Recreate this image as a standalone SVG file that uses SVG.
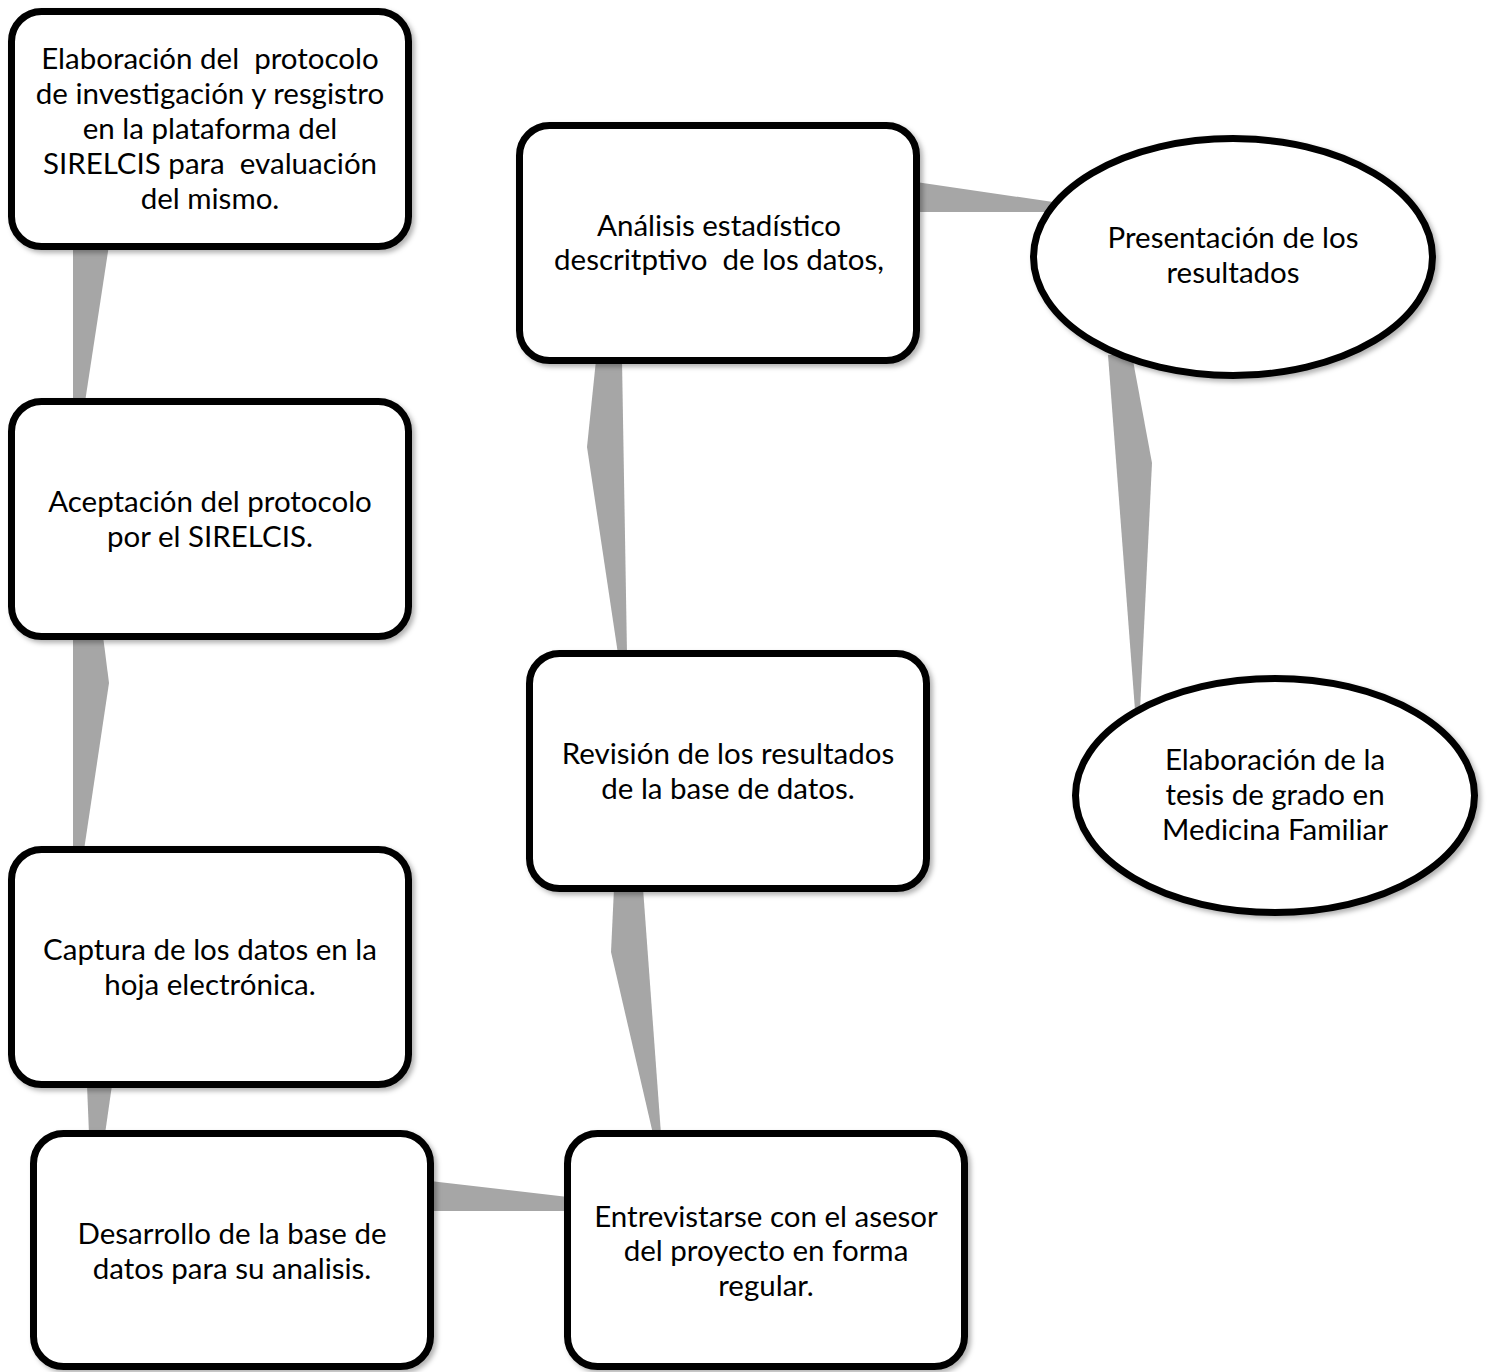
<svg xmlns="http://www.w3.org/2000/svg" width="1491" height="1372" viewBox="0 0 1491 1372">
<defs>
<filter id="sh" x="-10%" y="-10%" width="120%" height="120%">
<feDropShadow dx="3" dy="3" stdDeviation="2.5" flood-color="#000" flood-opacity="0.3"/>
</filter>
<style>
.conn{fill:#a6a6a6;}
.box{fill:#fff;stroke:#000;stroke-width:7;filter:url(#sh);}
.t{font-family:Lato,"Open Sans","Liberation Sans",sans-serif;font-size:29.5px;fill:#000;text-anchor:middle;white-space:pre;}
</style>
</defs>
<rect width="1491" height="1372" fill="#fff"/>
<g id="connectors">
<polygon class="conn" points="73,245 109,245 85,402 73,402"/>
<polygon class="conn" points="73,636 103,636 109,683 84,850 73,850"/>
<polygon class="conn" points="87,1085 112,1085 105,1134 89,1134"/>
<polygon class="conn" points="430,1181 568,1197 568,1211 430,1211"/>
<polygon class="conn" points="614,888 643,888 661,1134 653,1134 611,952"/>
<polygon class="conn" points="596,360 622,360 627,654 618,654 587,447"/>
<polygon class="conn" points="916,182 1060,203 1060,212 916,212"/>
<polygon class="conn" points="1108,355 1132,355 1152,463 1140,710 1135,710"/>
</g>
<g id="n1">
<rect class="box" x="11.5" y="11.5" width="397" height="235" rx="30"/>
<text class="t" x="210" y="69" xml:space="preserve">Elaboración del  protocolo</text>
<text class="t" x="210" y="104">de investigación y resgistro</text>
<text class="t" x="210" y="139">en la plataforma del</text>
<text class="t" x="210" y="174" xml:space="preserve">SIRELCIS para  evaluación</text>
<text class="t" x="210" y="209">del mismo.</text>
</g>
<g id="n2">
<rect class="box" x="11.5" y="401.5" width="397" height="235" rx="30"/>
<text class="t" x="210" y="512">Aceptación del protocolo</text>
<text class="t" x="210" y="547">por el SIRELCIS.</text>
</g>
<g id="n3">
<rect class="box" x="11.5" y="849.5" width="397" height="235" rx="30"/>
<text class="t" x="210" y="960">Captura de los datos en la</text>
<text class="t" x="210" y="995">hoja electrónica.</text>
</g>
<g id="n4">
<rect class="box" x="33.5" y="1133.5" width="397" height="233" rx="30"/>
<text class="t" x="232" y="1244">Desarrollo de la base de</text>
<text class="t" x="232" y="1279">datos para su analisis.</text>
</g>
<g id="n5">
<rect class="box" x="567.5" y="1133.5" width="397" height="233" rx="30"/>
<text class="t" x="766" y="1227">Entrevistarse con el asesor</text>
<text class="t" x="766" y="1261">del proyecto en forma</text>
<text class="t" x="766" y="1296">regular.</text>
</g>
<g id="n6">
<rect class="box" x="529.5" y="653.5" width="397" height="235" rx="30"/>
<text class="t" x="728" y="764">Revisión de los resultados</text>
<text class="t" x="728" y="799">de la base de datos.</text>
</g>
<g id="n7">
<rect class="box" x="519.5" y="125.5" width="397" height="235" rx="30"/>
<text class="t" x="719" y="236">Análisis estadístico</text>
<text class="t" x="719" y="270" xml:space="preserve">descritptivo  de los datos,</text>
</g>
<g id="n8">
<ellipse class="box" cx="1233" cy="257" rx="199.5" ry="118.5"/>
<text class="t" x="1233" y="248">Presentación de los</text>
<text class="t" x="1233" y="283">resultados</text>
</g>
<g id="n9">
<ellipse class="box" cx="1275" cy="795.5" rx="199.5" ry="117"/>
<text class="t" x="1275" y="770">Elaboración de la</text>
<text class="t" x="1275" y="805">tesis de grado en</text>
<text class="t" x="1275" y="840">Medicina Familiar</text>
</g>
</svg>
